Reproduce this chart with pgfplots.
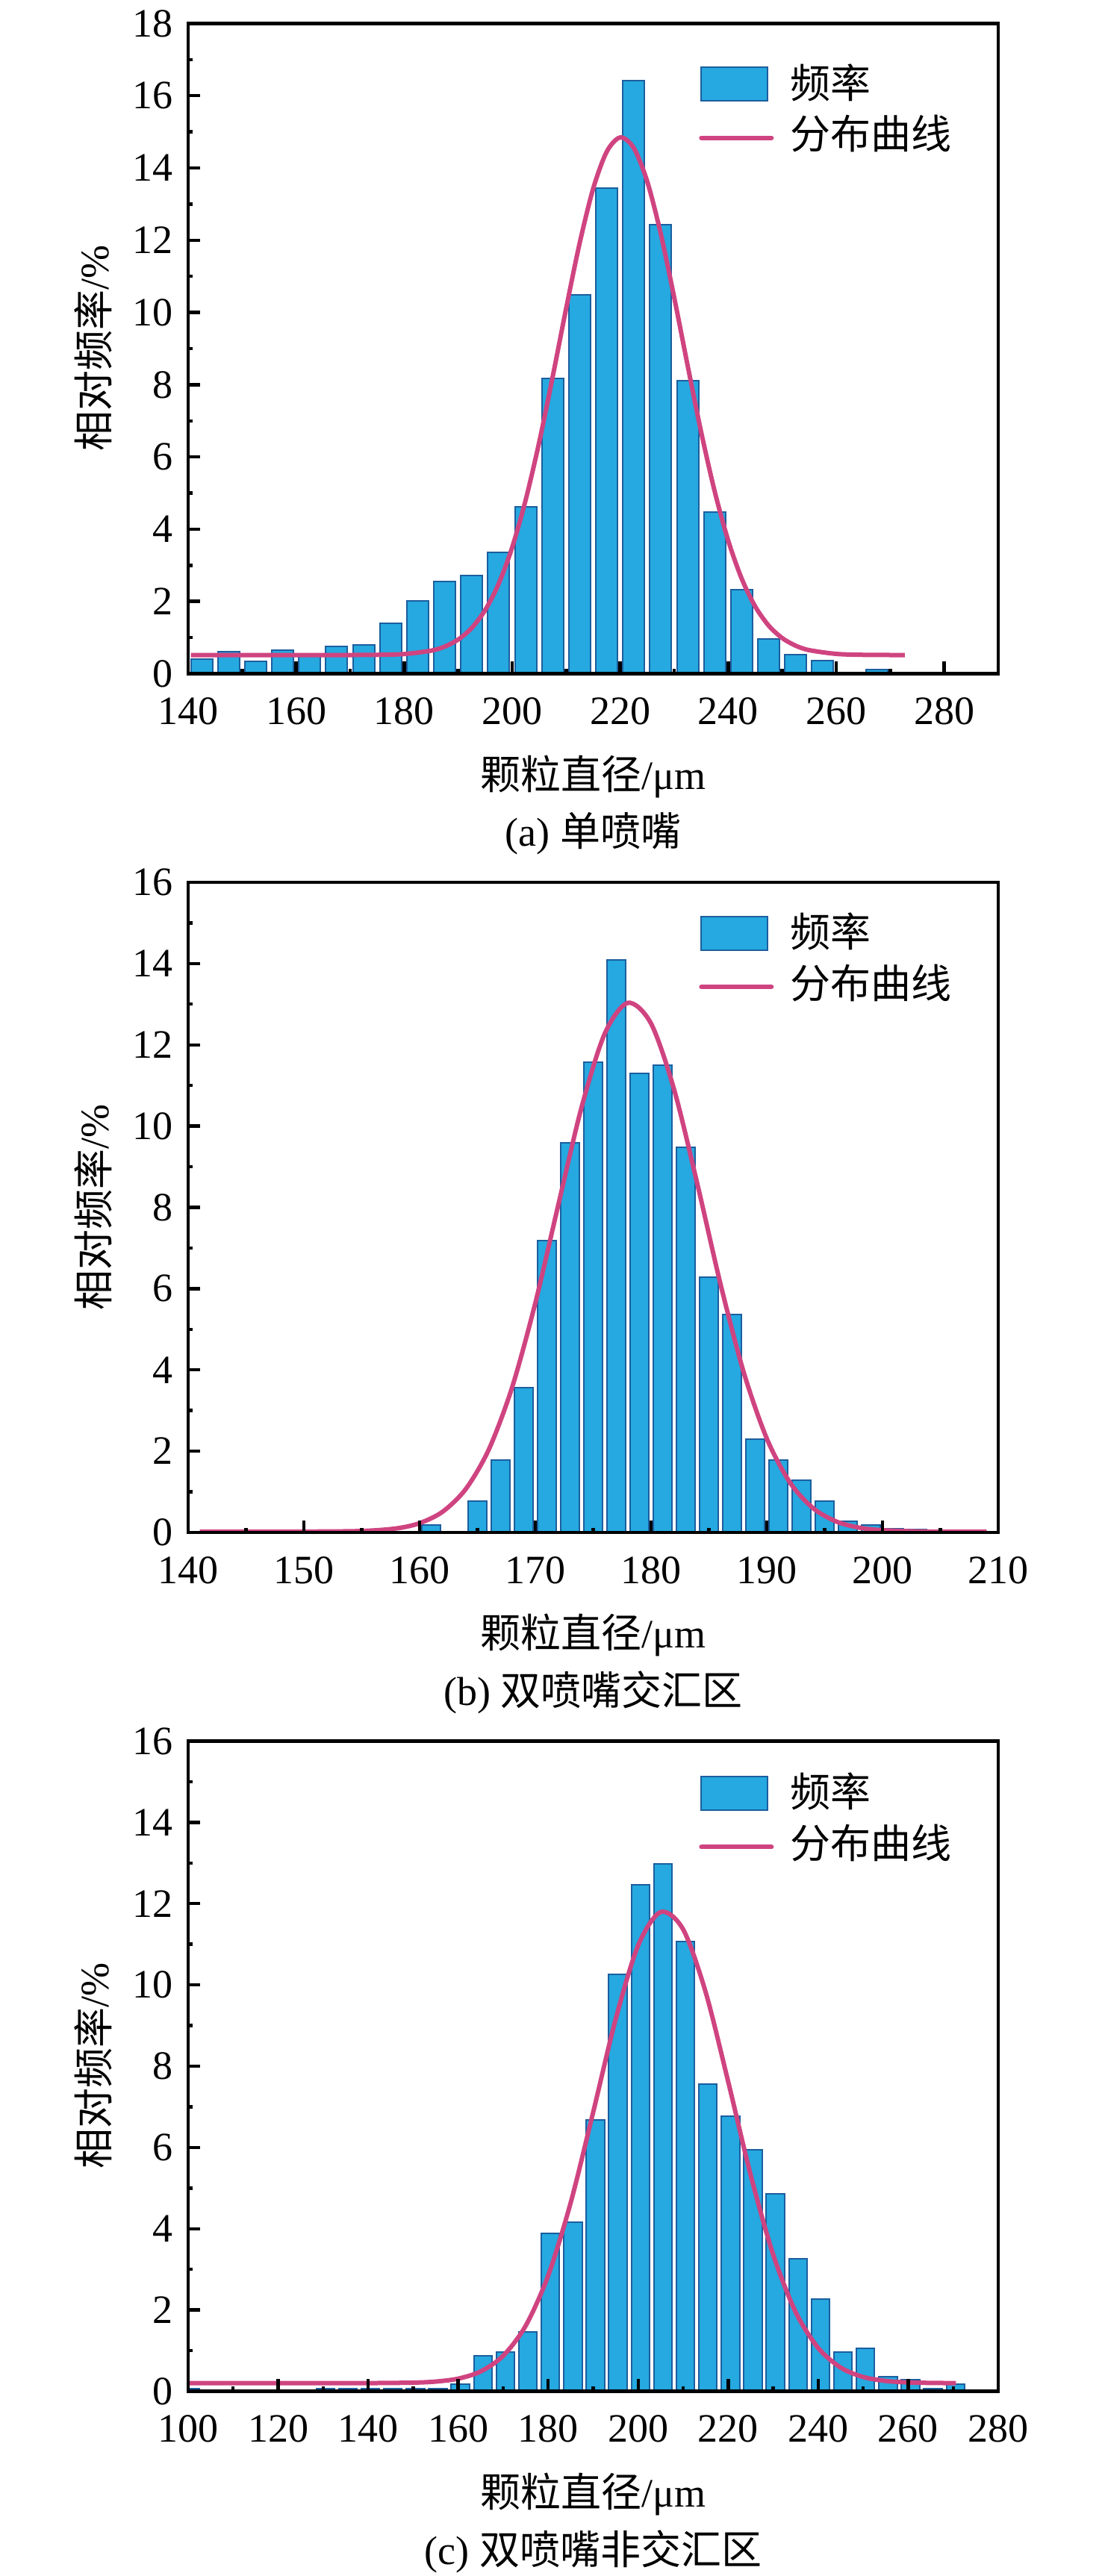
\documentclass[border=0pt]{standalone}
\usepackage{fontspec}
\setmainfont{Liberation Serif}
\newfontfamily\cjk{Noto Sans CJK SC}
\usepackage{pgfplots}
\pgfplotsset{compat=1.18}
\definecolor{barfill}{HTML}{25A9E0}
\definecolor{baredge}{HTML}{1C5E9E}
\definecolor{curvec}{HTML}{CF4480}
\pgfplotsset{
  panel/.style={
    scale only axis, width=271.25pt, height=217.75pt,
    axis on top,
    tick align=inside, xtick pos=lower, ytick pos=left,
    major tick length=4pt, minor tick length=1.6pt,
    every tick/.style={black, line width=1.1pt},
    axis line style={line width=1.1pt},
    minor x tick num=1, minor y tick num=1,
    ymin=0,
    /pgf/number format/assume math mode=true,
    xticklabel style={yshift=-4.5pt},
    yticklabel style={xshift=-1.7pt},
    xlabel={{\cjk 颗粒直径}/μm},
    ylabel={{\cjk 相对频率}/\%},
    xlabel style={at={(axis description cs:0.5,-0.158)}, anchor=center},
    ylabel style={at={(axis description cs:-0.117,0.5)}, anchor=center},
    legend style={draw=none, fill=none, inner sep=0pt, row sep=4.25pt,
      cells={anchor=west}, nodes={inner sep=0pt}, anchor=north west},
  },
  barsty/.style={ybar, bar width=#1, bar shift=0pt, fill=barfill, draw=baredge, line width=0.5pt,
    legend image code/.code={\draw[fill=barfill, draw=baredge, line width=0.5pt] (0pt,-6pt) rectangle (22.25pt,5.25pt); \path (29pt,0pt);}},
  curvesty/.style={smooth, no marks, color=curvec, line width=1.5pt,
    legend image code/.code={\draw[color=curvec, line width=1.5pt, line cap=round] (0pt,-1.2pt) -- (23.5pt,-1.2pt); \path (29pt,0pt);}},
}
\begin{document}
\begin{tikzpicture}[font=\fontsize{13.5}{16.2}\selectfont]
\useasboundingbox (0,0) rectangle (369pt,862.75pt);
% ---------------- (a)
\begin{axis}[panel, name=pa, at={(63pt,637.125pt)}, anchor=south west,
  xmin=140, xmax=290, xtick={140,160,...,280},
  ymax=18, ytick={0,2,...,18},
  legend style={at={(axis description cs:0.630,0.939)}}]
\addplot[barsty=4] coordinates {
(142.5,0.41) (147.5,0.61) (152.5,0.35) (157.5,0.66) (162.5,0.50) (167.5,0.76) (172.5,0.79) (177.5,1.39) (182.5,2.02) (187.5,2.56) (192.5,2.71) (197.5,3.35) (202.5,4.61) (207.5,8.17) (212.5,10.48) (217.5,13.44) (222.5,16.42) (227.5,12.44) (232.5,8.12) (237.5,4.47) (242.5,2.32) (247.5,0.97) (252.5,0.52) (257.5,0.36) (267.5,0.12)
};
\addlegendentry{\cjk 频率}
\addplot[curvesty] coordinates {
(140.5,0.515) (150,0.515) (160,0.515) (170,0.516) (175,0.521) (180,0.543) (185,0.637) (187.5,0.749) (190,0.944) (192.5,1.263) (195,1.760) (197.5,2.488) (200,3.496) (202.5,4.810) (205,6.405) (207.5,8.219) (210,10.118) (212.5,11.922) (215,13.429) (217.5,14.448) (220,14.845) (222.5,14.557) (225,13.630) (227.5,12.188) (230,10.417) (232.5,8.523) (235,6.684) (237.5,5.046) (240,3.686) (242.5,2.630) (245,1.860) (247.5,1.330) (250,0.985) (252.5,0.774) (255,0.651) (260,0.547) (265,0.521) (272.7,0.515)
};
\addlegendentry{\cjk 分布曲线}
\end{axis}
\node[anchor=center] at ([yshift=-53.6pt]pa.south) {(a) {\cjk 单喷嘴}};
% ---------------- (b)
\begin{axis}[panel, name=pb, at={(63pt,349.5pt)}, anchor=south west,
  xmin=140, xmax=210, xtick={140,150,...,210},
  ymax=16, ytick={0,2,...,16},
  legend style={at={(axis description cs:0.630,0.954)}}]
\addplot[barsty=1.64] coordinates {
(161,0.18) (165,0.77) (167,1.78) (169,3.57) (171,7.18) (173,9.58) (175,11.58) (177,14.09) (179,11.29) (181,11.49) (183,9.48) (185,6.29) (187,5.37) (189,2.29) (191,1.78) (193,1.28) (195,0.77) (197,0.28) (199,0.18) (201,0.09) (203,0.08)
};
\addlegendentry{\cjk 频率}
\addplot[curvesty] coordinates {
(141,0.02) (145,0.02) (150,0.021) (155,0.036) (158,0.100) (160,0.229) (162,0.512) (164,1.072) (166,2.053) (168,3.576) (170,5.646) (172,8.079) (174,10.467) (176,12.277) (178,13.033) (180,12.524) (182,10.893) (184,8.577) (186,6.115) (188,3.948) (190,2.312) (192,1.230) (194,0.598) (196,0.270) (198,0.118) (200,0.055) (203,0.026) (206,0.02) (209,0.02)
};
\addlegendentry{\cjk 分布曲线}
\end{axis}
\node[anchor=center] at ([yshift=-53.6pt]pb.south) {(b) {\cjk 双喷嘴交汇区}};
% ---------------- (c)
\begin{axis}[panel, name=pc, at={(63pt,61.875pt)}, anchor=south west,
  xmin=100, xmax=280, xtick={100,120,...,280},
  ymax=16, ytick={0,2,...,16},
  legend style={at={(axis description cs:0.630,0.952)}}]
\addplot[barsty=4.05] coordinates {
(100.5,0.07) (130.5,0.07) (135.5,0.07) (140.5,0.07) (145.5,0.07) (150.5,0.07) (155.5,0.07) (160.5,0.17) (165.5,0.87) (170.5,0.97) (175.5,1.46) (180.5,3.88) (185.5,4.16) (190.5,6.67) (195.5,10.26) (200.5,12.47) (205.5,12.97) (210.5,11.07) (215.5,7.56) (220.5,6.77) (225.5,5.95) (230.5,4.86) (235.5,3.26) (240.5,2.26) (245.5,0.97) (250.5,1.06) (255.5,0.36) (260.5,0.28) (265.5,0.07) (270.5,0.17)
};
\addlegendentry{\cjk 频率}
\addplot[curvesty] coordinates {
(100.3,0.2) (120,0.2) (140,0.201) (150,0.212) (155,0.238) (160,0.310) (165,0.487) (170,0.873) (175,1.611) (180,2.846) (185,4.640) (190,6.868) (195,9.159) (200,10.974) (205,11.794) (210,11.364) (215,9.819) (220,7.618) (225,5.318) (230,3.360) (235,1.946) (240,1.064) (245,0.582) (250,0.351) (255,0.254) (260,0.217) (265,0.205) (270.6,0.2)
};
\addlegendentry{\cjk 分布曲线}
\end{axis}
\node[anchor=center] at ([yshift=-53.6pt]pc.south) {(c) {\cjk 双喷嘴非交汇区}};
\end{tikzpicture}
\end{document}
